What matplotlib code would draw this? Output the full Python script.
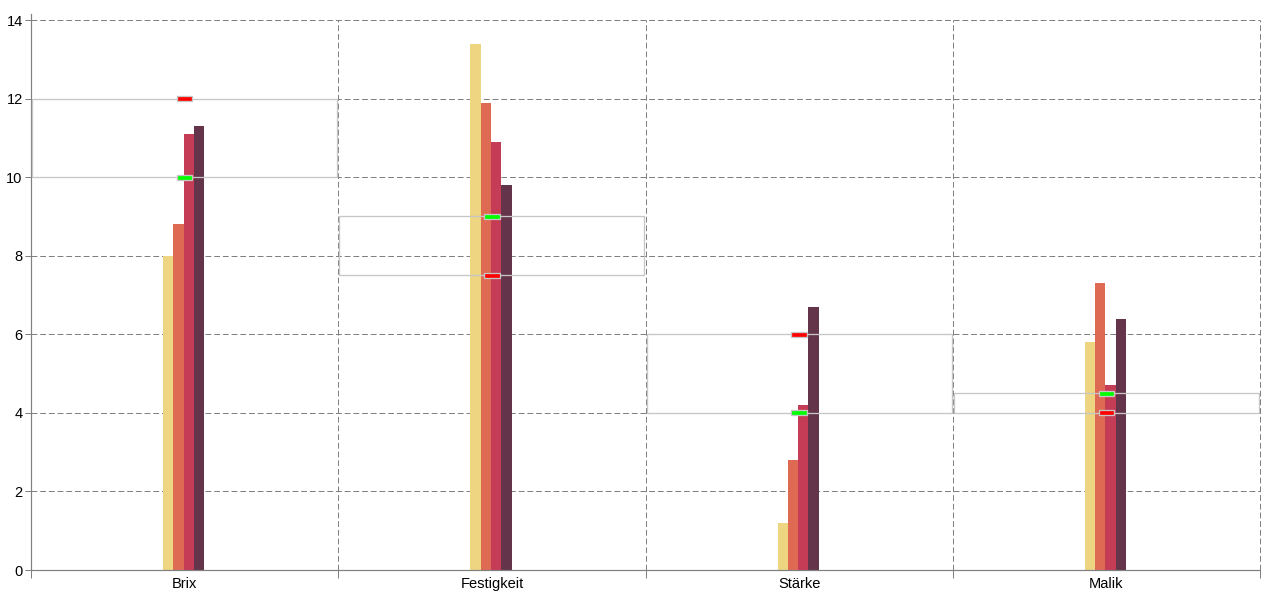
import matplotlib.pyplot as plt
import numpy as np

plt.rcParams['font.family'] = ['Liberation Sans', 'DejaVu Sans']

categories = ['Brix', 'Festigkeit', 'Stärke', 'Malik']
series_1 = [8.0, 13.4, 1.2, 5.8]
series_2 = [8.8, 11.9, 2.8, 7.3]
series_3 = [11.1, 10.9, 4.2, 4.7]
series_4 = [11.3, 9.8, 6.7, 6.4]
target_green = [10.0, 9.0, 4.0, 4.5]
target_red = [12.0, 7.5, 6.0, 4.0]

bar_colors = ['#EDD582', '#DE6A53', '#C43C55', '#64354A']
grey = '#808080'
light = '#c6c6c6'
px = 0.72  # one pixel in points at dpi 100

fig = plt.figure(figsize=(12.8, 6), dpi=100)
ax = fig.add_axes([31 / 1280, 30 / 600, 1229 / 1280, 550 / 600])

centers = np.arange(len(categories)) + 0.5
w = 0.0335
shift = -0.003
for i, vals in enumerate([series_1, series_2, series_3, series_4]):
    ax.bar(centers + shift + (i - 1.5) * w, vals, width=w, color=bar_colors[i],
           linewidth=0, zorder=2)

# light grey band between the two target values
lo = np.minimum(target_green, target_red)
hi = np.maximum(target_green, target_red)
ax.bar(centers, hi - lo, bottom=lo, width=0.993, fill=False,
       edgecolor=light, linewidth=1.3 * px, zorder=3)

# target markers
mh = 0.13
for vals, col in [(target_green, '#00ff00'), (target_red, '#ff0000')]:
    ax.bar(centers, mh, bottom=np.array(vals) - mh / 2, width=0.05, color=col,
           edgecolor=light, linewidth=1.3 * px, zorder=4)

ax.set_xlim(0, 4)
ax.set_ylim(0, 14)
ax.set_yticks(np.arange(0, 15, 2))
ax.set_xticks(centers)
ax.set_xticklabels(categories, fontsize=10.5)
ax.set_xticks(np.arange(0, 5), minor=True)
ax.tick_params(axis='x', which='major', length=0, pad=5)
ax.tick_params(axis='x', which='minor', length=6, width=px, color=grey, direction='out')
ax.tick_params(axis='y', length=4, width=px, color=grey, labelsize=10.5, pad=2)

dash = (0, (5.8, 2.9))
ax.grid(True, axis='y', which='major', color=grey, linestyle=dash, linewidth=px)
ax.grid(True, axis='x', which='minor', color=grey, linestyle=dash, linewidth=px)
ax.set_axisbelow(True)
for t in ax.xaxis.get_minor_ticks() + ax.yaxis.get_major_ticks():
    t.gridline.set_clip_on(False)

for side in ['top', 'right']:
    ax.spines[side].set_visible(False)
for side in ['left', 'bottom']:
    ax.spines[side].set_color(grey)
    ax.spines[side].set_linewidth(1.2 * px)
ax.spines['left'].set_bounds(0, 14.15)

fig.savefig('out.png', dpi=100)
